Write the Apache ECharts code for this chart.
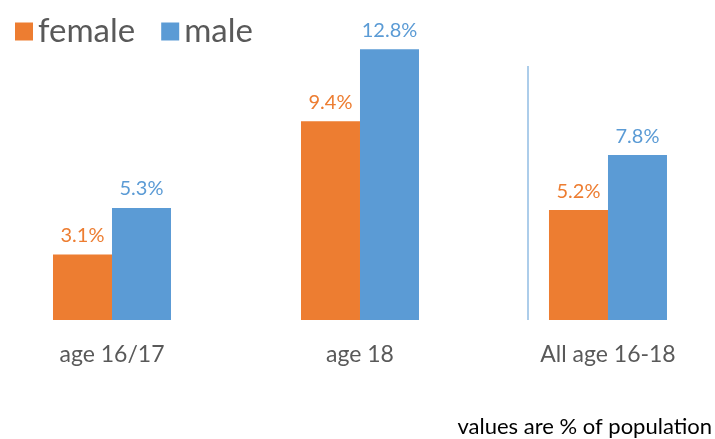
<!DOCTYPE html>
<html>
<head>
<meta charset="utf-8">
<script src="https://cdn.jsdelivr.net/npm/echarts@6/dist/echarts.min.js"></script>
<style>
  html, body { margin: 0; padding: 0; background: #fff; }
  #chart { width: 715px; height: 439px; }
</style>
</head>
<body>
<div id="chart"></div>
<script>
// data
const categories = ['age 16/17', 'age 18', 'All age 16-18'];
const female = [3.1, 9.4, 5.2];
const male = [5.3, 12.8, 7.8];

// categories sit on a value axis so the groups can spread a bit past the grid edges
const pos = categories.map((c, i) => i);

document.addEventListener("DOMContentLoaded", () => {
  const chart = echarts.init(document.querySelector("#chart"));
  chart.setOption({
    animation: false,
    textStyle: { fontFamily: 'Lato, sans-serif' },
    legend: {
      left: 10,
      top: 10,
      itemWidth: 18,
      itemHeight: 18,
      itemGap: 26,
      icon: 'rect',
      textStyle: { fontSize: 33, color: '#595959' },
      data: ['female', 'male']
    },
    grid: { left: 0, right: 0, top: 24, bottom: 119 },
    xAxis: {
      type: 'value',
      min: -0.4516,
      max: 2.4315,
      splitLine: { show: false },
      axisLine: { show: false },
      axisTick: { show: false },
      axisLabel: {
        customValues: pos,
        showMinLabel: true,
        showMaxLabel: true,
        hideOverlap: false,
        fontSize: 23, color: '#595959', margin: 23,
        formatter: v => categories[Math.round(v)] || ''
      }
    },
    yAxis: {
      type: 'value',
      min: 0,
      max: 14,
      show: false,
      splitLine: { show: false }
    },
    series: [{
      name: 'female',
      type: 'bar',
      data: female.map((v, i) => [pos[i], v]),
      barWidth: 59,
      barGap: '0%',
      itemStyle: { color: '#ed7d31' },
      label: { show: true, position: 'top', distance: 9, formatter: p => p.value[1] + '%', fontSize: 20, color: '#ed7d31' }
    }, {
      name: 'male',
      type: 'bar',
      data: male.map((v, i) => [pos[i], v]),
      barWidth: 59,
      itemStyle: { color: '#5b9bd5' },
      label: { show: true, position: 'top', distance: 9, formatter: p => p.value[1] + '%', fontSize: 20, color: '#5b9bd5' }
    }],
    graphic: [{
      type: 'line',
      shape: { x1: 528, y1: 66, x2: 528, y2: 320 },
      style: { stroke: '#5b9bd5', lineWidth: 1 }
    }, {
      type: 'text',
      right: 3,
      bottom: 1,
      style: { text: 'values are % of population', fontSize: 22, fill: '#000', fontFamily: 'Lato, sans-serif' }
    }]
  });
});
</script>
</body>
</html>
